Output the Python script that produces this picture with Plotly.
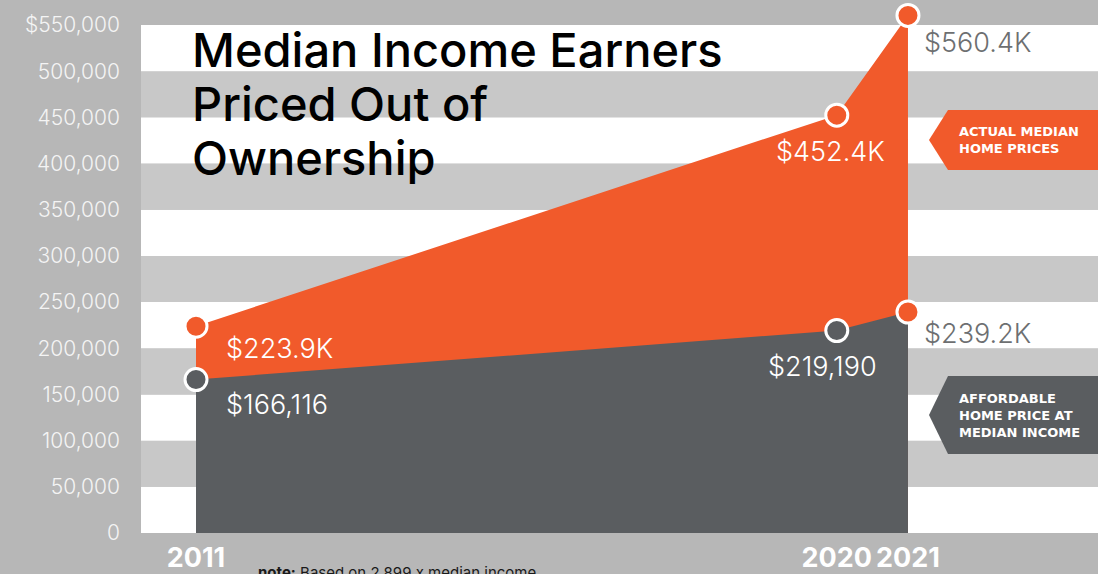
import plotly.graph_objects as go

# ---- data ----
years = [2011, 2020, 2021]
actual_prices = [223900, 452400, 560400]
affordable_prices = [166116, 219190, 239200]
actual_labels = ["$223.9K", "$452.4K", "$560.4K"]
affordable_labels = ["$166,116", "$219,190", "$239.2K"]
y_tick_vals = [0, 50000, 100000, 150000, 200000, 250000, 300000, 350000, 400000, 450000, 500000, 550000]
y_tick_text = ["0", "50,000", "100,000", "150,000", "200,000", "250,000", "300,000",
               "350,000", "400,000", "450,000", "500,000", "$550,000"]
year_tick_text = ["2011", "2020", "2021"]
title_lines = ["Median Income Earners", "Priced Out of", "Ownership"]
callout_actual = ["ACTUAL MEDIAN", "HOME PRICES"]
callout_afford = ["AFFORDABLE", "HOME PRICE AT", "MEDIAN INCOME"]
note_bold = "note:"
note_text = "Based on 2.899 x median income"

# ---- style ----
W, H = 1098, 574
ML, MR, MT, MB = 141, 0, 3, 41
ORANGE = "#f15a2b"
GREY = "#5a5d60"
OUTER = "#b7b7b7"
BAND = "#c8c8c8"
FONT = "Inter"

def px(x):  # pixel -> paper x
    return (x - ML) / (W - ML - MR)

def py(y):  # pixel -> paper y
    return (H - MB - y) / (H - MT - MB)

fig = go.Figure()

fig.add_trace(go.Scatter(x=years, y=actual_prices, mode="lines", fill="tozeroy",
                         fillcolor=ORANGE, line=dict(width=0, color=ORANGE),
                         hoverinfo="skip", showlegend=False))
fig.add_trace(go.Scatter(x=years, y=affordable_prices, mode="lines", fill="tozeroy",
                         fillcolor=GREY, line=dict(width=0, color=GREY),
                         hoverinfo="skip", showlegend=False))
fig.add_trace(go.Scatter(x=years, y=actual_prices, mode="markers", cliponaxis=False,
                         marker=dict(size=22, color=ORANGE, line=dict(color="white", width=3)),
                         showlegend=False))
fig.add_trace(go.Scatter(x=years, y=affordable_prices, mode="markers", cliponaxis=False,
                         marker=dict(size=22, color=[GREY, GREY, ORANGE],
                                     line=dict(color="white", width=3)),
                         showlegend=False))

shapes = []
for k in range(11):
    shapes.append(dict(type="rect", xref="paper", x0=0, x1=1, yref="y",
                       y0=y_tick_vals[k], y1=y_tick_vals[k + 1],
                       fillcolor="white" if k % 2 == 0 else BAND,
                       line=dict(width=0), layer="below"))

def path(points):
    return "M " + " L ".join(f"{px(a):.5f},{py(b):.5f}" for a, b in points) + " Z"

shapes.append(dict(type="path", xref="paper", yref="paper",
                   path=path([(948, 110), (1098, 110), (1098, 170), (948, 170), (929, 140)]),
                   fillcolor=ORANGE, line=dict(width=0)))
shapes.append(dict(type="path", xref="paper", yref="paper",
                   path=path([(948, 376), (1098, 376), (1098, 454), (948, 454), (929, 415)]),
                   fillcolor=GREY, line=dict(width=0)))

annotations = []
# value labels
act_style = [dict(xanchor="left", xshift=28, yshift=-22, color="white"),
             dict(xanchor="center", xshift=-6, yshift=-36, color="white"),
             dict(xanchor="left", xshift=14, yshift=-27, color="#6d6f71")]
aff_style = [dict(xanchor="left", xshift=28, yshift=-25, color="white"),
             dict(xanchor="center", xshift=-14, yshift=-36, color="white"),
             dict(xanchor="left", xshift=14, yshift=-21, color="#6d6f71")]
for yrs, vals, labs, sty in [(years, actual_prices, actual_labels, act_style),
                             (years, affordable_prices, affordable_labels, aff_style)]:
    for xv, yv, t, s in zip(yrs, vals, labs, sty):
        annotations.append(dict(x=xv, y=yv, xref="x", yref="y", text=t, showarrow=False,
                                xanchor=s["xanchor"], yanchor="middle",
                                xshift=s["xshift"], yshift=s["yshift"],
                                font=dict(family=FONT, size=27, color=s["color"], weight=300)))

for i, line in enumerate(title_lines):
    annotations.append(dict(xref="paper", yref="paper", x=px(190), y=py(50 + 53.5 * i),
                            xanchor="left", yanchor="middle", align="left", showarrow=False,
                            text=line,
                            font=dict(family=FONT, size=47, color="black", weight=500)))
annotations.append(dict(xref="paper", yref="paper", x=px(957), y=py(140), xanchor="left",
                        yanchor="middle", align="left", showarrow=False,
                        text="<br>".join(callout_actual),
                        font=dict(family="DejaVu Sans", size=13, color="white", weight=700)))
annotations.append(dict(xref="paper", yref="paper", x=px(957), y=py(415), xanchor="left",
                        yanchor="middle", align="left", showarrow=False,
                        text="<br>".join(callout_afford),
                        font=dict(family="DejaVu Sans", size=13, color="white", weight=700)))
annotations.append(dict(xref="paper", yref="paper", x=px(256), y=py(561), xanchor="left",
                        yanchor="top", align="left", showarrow=False,
                        text=f"<b>{note_bold}</b> {note_text}",
                        font=dict(family=FONT, size=15, color="#1a1a1a")))

fig.update_layout(
    width=W, height=H,
    margin=dict(l=ML, r=MR, t=MT, b=MB),
    paper_bgcolor=OUTER, plot_bgcolor=OUTER,
    shapes=shapes, annotations=annotations,
    showlegend=False,
    xaxis=dict(range=[2010.2275, 2023.669], tickmode="array", tickvals=years,
               ticktext=year_tick_text, showgrid=False, zeroline=False, showline=False,
               ticks="", ticklabelstandoff=6,
               tickfont=dict(family=FONT, size=27, color="white", weight=700)),
    yaxis=dict(range=[0, 573800], tickmode="array", tickvals=y_tick_vals,
               ticktext=y_tick_text, showgrid=False, zeroline=False, showline=False,
               ticks="", ticklabelstandoff=20,
               tickfont=dict(family=FONT, size=21, color="#f4f4f4", weight=300)),
)

fig.write_html("out.html", config={"displayModeBar": False},
               post_script="document.body.style.margin='0';document.body.style.overflow='hidden';")
